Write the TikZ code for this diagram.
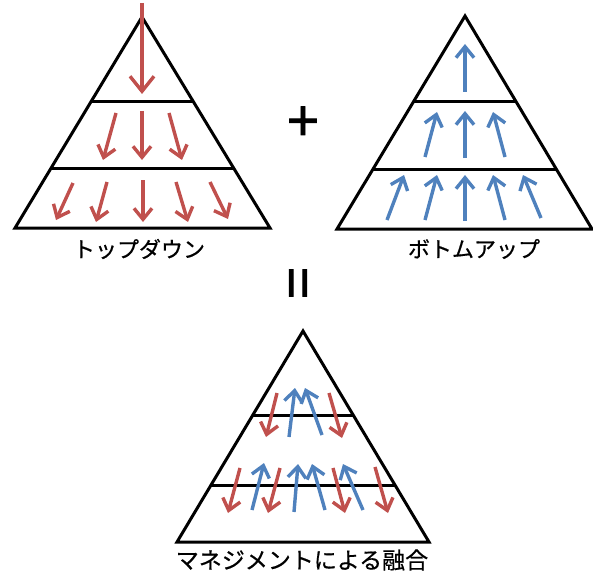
\documentclass[tikz,border=0pt]{standalone}
\usepackage{fontspec}
\setmainfont{Noto Sans CJK JP}
\newfontfamily\labelfont[FakeBold=0.6]{Noto Sans CJK JP}
\newfontfamily\signfont[FakeBold=1.6]{Noto Sans CJK JP}
\usetikzlibrary{arrows.meta, calc}
\definecolor{tdred}{RGB}{192,80,77}
\definecolor{bublue}{RGB}{79,129,189}
\tikzset{
  tier/.style={line width=3pt, line join=miter},
  down/.style={tdred, line width=3.4pt, -{Straight Barb[length=11pt, width=18pt]}},
  up/.style={bublue, line width=3.4pt, -{Straight Barb[length=11pt, width=18pt]}},
  caption/.style={font=\labelfont\fontsize{22}{22}\selectfont, inner sep=0pt},
  sign/.style={font=\signfont\fontsize{56}{56}\selectfont, inner sep=0pt},
}

\begin{document}
\begin{tikzpicture}[x=1pt, y=-1pt]
    \useasboundingbox (0,0) rectangle (593,580);

    % top-down pyramid
    \coordinate (tdtop) at (142,17);
    \coordinate (tdl) at (15,228);
    \coordinate (tdr) at (270,228);
    \draw[tier] (tdl) -- (tdtop) -- (tdr) -- cycle;
    \draw[tier] ($(tdl)!0.28!(tdtop)$) -- ($(tdr)!0.28!(tdtop)$);
    \draw[tier] ($(tdl)!0.60!(tdtop)$) -- ($(tdr)!0.60!(tdtop)$);

    \draw[down, -{Straight Barb[length=15pt, width=24pt]}] (142,3) -- (142,94);
    \draw[down] (116,113) -- (103,160);
    \draw[down] (142,111) -- (142,160);
    \draw[down] (169,113) -- (182,160);
    \draw[down] (73,183) -- (56,220);
    \draw[down] (107,182) -- (96,222);
    \draw[down] (143,180) -- (143,222);
    \draw[down] (176,182) -- (188,222);
    \draw[down] (210,182) -- (228,219);

    \node[caption] (tdlabel) at (139,249) {トップダウン};

    % bottom-up pyramid
    \coordinate (butop) at (465,16);
    \coordinate (bul) at (337,229);
    \coordinate (bur) at (592,229);
    \draw[tier] (bul) -- (butop) -- (bur) -- cycle;
    \draw[tier] ($(bul)!0.28!(butop)$) -- ($(bur)!0.28!(butop)$);
    \draw[tier] ($(bul)!0.60!(butop)$) -- ($(bur)!0.60!(butop)$);

    \draw[up] (465,92) -- (465,44);
    \draw[up] (425,157) -- (437,112);
    \draw[up] (465,158) -- (465,111);
    \draw[up] (505,157) -- (493,112);
    \draw[up] (387,220) -- (404,175);
    \draw[up] (425,220) -- (437,175);
    \draw[up] (465,221) -- (465,175);
    \draw[up] (505,220) -- (493,175);
    \draw[up] (541,218) -- (523,175);

    \node[caption] (bulabel) at (474,249) {ボトムアップ};

    % plus and equals
    \node[sign] (plus) at (303,124) {+};
    \node[sign, rotate=90] (equals) at (304,283) {=};

    % combined pyramid
    \coordinate (mgtop) at (303,331);
    \coordinate (mgl) at (177,542);
    \coordinate (mgr) at (429,542);
    \draw[tier] (mgl) -- (mgtop) -- (mgr) -- cycle;
    \draw[tier] ($(mgl)!0.27!(mgtop)$) -- ($(mgr)!0.27!(mgtop)$);
    \draw[tier] ($(mgl)!0.60!(mgtop)$) -- ($(mgr)!0.60!(mgtop)$);

    \draw[down] (277,393) -- (266,437);
    \draw[up] (289,437) -- (295,388);
    \draw[up] (322,435) -- (305,388);
    \draw[down] (329,393) -- (342,438);

    \draw[down] (240,468) -- (228,513);
    \draw[up] (252,510) -- (264,463);
    \draw[down] (280,468) -- (268,513);
    \draw[up] (294,512) -- (298,464);
    \draw[up] (325,510) -- (312,464);
    \draw[down] (333,468) -- (345,513);
    \draw[up] (363,510) -- (343,464);
    \draw[down] (375,467) -- (388,513);

    \node[caption, font=\labelfont\fontsize{23}{23}\selectfont] (mglabel) at (302,560) {マネジメントによる融合};
\end{tikzpicture}
\end{document}
